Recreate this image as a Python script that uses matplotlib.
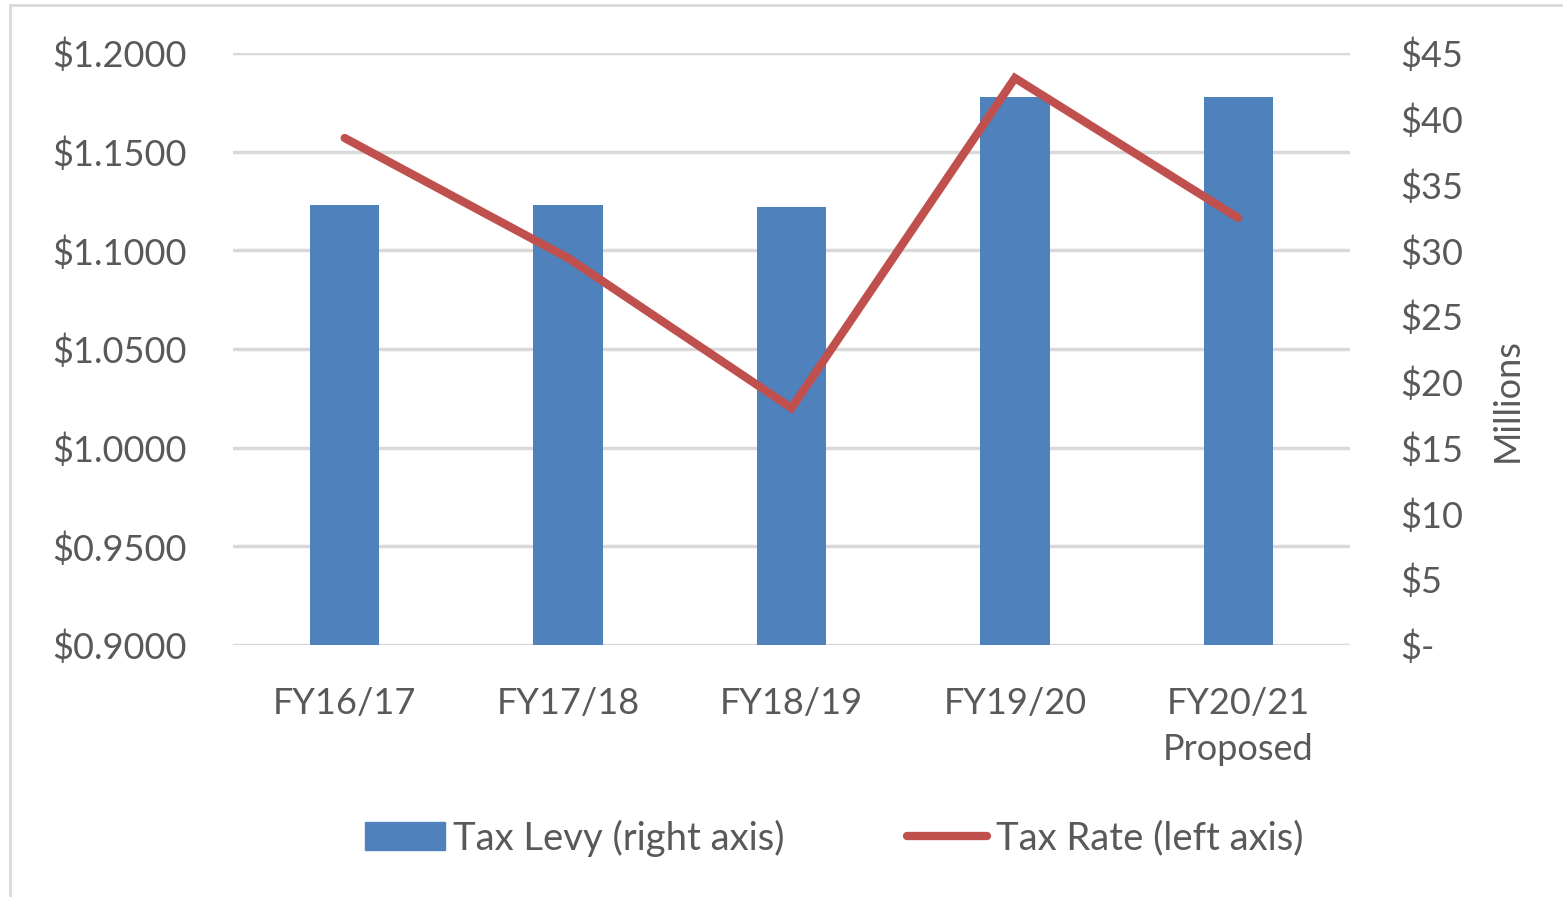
import matplotlib
matplotlib.use("Agg")
import matplotlib.pyplot as plt
from matplotlib.patches import Rectangle, Patch
from matplotlib.lines import Line2D

categories = ["FY16/17", "FY17/18", "FY18/19", "FY19/20", "FY20/21\nProposed"]
tax_levy = [33.45, 33.45, 33.3, 41.65, 41.65]          # $ millions (right axis)
tax_rate = [1.1569, 1.0961, 1.0201, 1.1873, 1.1164]    # $ per unit (left axis)
left_ticks = [0.90, 0.95, 1.00, 1.05, 1.10, 1.15, 1.20]
right_ticks = [0, 5, 10, 15, 20, 25, 30, 35, 40, 45]

FONT = "Lato"
TXT = "#595959"
BAR = "#4F81BD"
LINE = "#C0504D"
GRID = "#D9D9D9"
FS = 26

fig = plt.figure(figsize=(15.63, 8.97), dpi=100)
fig.patch.set_facecolor("white")
fig.add_artist(Rectangle((10/1563, -0.01), 1.0, 1 - 5/897 + 0.01, transform=fig.transFigure,
                         fill=False, edgecolor="#D9D9D9", linewidth=2))

pos = [233/1563, 1 - 645/897, (1350-233)/1563, (645-53)/897]
ax = fig.add_axes(pos)
ax2 = ax.twinx()
ax3 = ax.twinx()

x = list(range(len(categories)))

# left axis with grid
ax.set_ylim(0.90, 1.20)
ax.set_yticks(left_ticks)
ax.set_yticklabels([f"${v:.4f}" for v in left_ticks])
ax.set_xlim(-0.5, len(categories) - 0.5)
ax.grid(axis="y", color=GRID, linewidth=2.5)
ax.set_axisbelow(True)
ax.set_xticks(x)
ax.set_xticklabels(categories)
for s in ax.spines.values():
    s.set_visible(False)
ax.tick_params(axis="both", length=0, labelcolor=TXT, labelsize=FS)
ax.tick_params(axis="y", pad=33)
ax.tick_params(axis="x", pad=30)
for lab in ax.get_xticklabels() + ax.get_yticklabels():
    lab.set_fontfamily(FONT)
for lab in ax.get_xticklabels():
    lab.set_linespacing(1.5)

# bars on right axis
ax2.bar(x, tax_levy, width=0.31, color=BAR, zorder=2)
ax2.set_ylim(0, 45)
ax2.set_yticks(right_ticks)
ax2.set_yticklabels(["$-" if v == 0 else f"${v}" for v in right_ticks])
for s in ax2.spines.values():
    s.set_visible(False)
ax2.tick_params(axis="y", length=0, labelcolor=TXT, labelsize=FS, pad=36)
for lab in ax2.get_yticklabels():
    lab.set_fontfamily(FONT)
ax2.set_ylabel("Millions", fontsize=FS, color=TXT, fontfamily=FONT)
ax2.yaxis.set_label_coords(1.126, 0.414)

# line on left scale, on top
ax3.set_ylim(0.90, 1.20)
ax3.plot(x, tax_rate, color=LINE, linewidth=6, solid_capstyle="round", solid_joinstyle="miter")
ax3.set_yticks([])
for s in ax3.spines.values():
    s.set_visible(False)
ax3.set_xlim(-0.5, len(categories) - 0.5)

handles = [Patch(facecolor=BAR, edgecolor=BAR),
           Line2D([0], [0], color=LINE, linewidth=6, solid_capstyle="round")]
leg = fig.legend(handles, ["Tax Levy (right axis)", "Tax Rate (left axis)"],
                 loc="center", bbox_to_anchor=(834/1563, 1 - 838/897), ncol=2,
                 frameon=False, handlelength=2.1, handleheight=0.75, handletextpad=0.22,
                 columnspacing=3.2, prop={"family": FONT, "size": 27.5})
for t in leg.get_texts():
    t.set_color(TXT)

fig.savefig("out.png", dpi=100, facecolor="white")
